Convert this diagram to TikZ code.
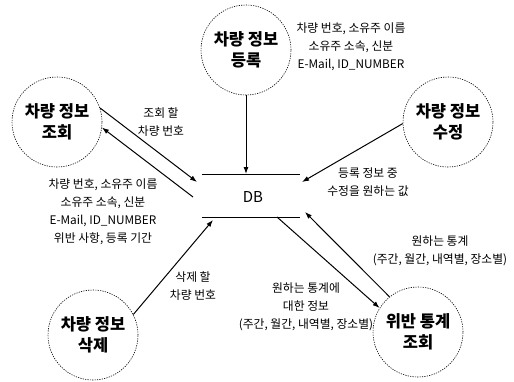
\documentclass[tikz,border=0pt]{standalone}
\usepackage{fontspec}
\setmainfont{Noto Sans CJK KR}
\usetikzlibrary{arrows.meta}
\begin{document}
\begin{tikzpicture}[x=1pt,y=-1pt,
  proc/.style={circle,draw,dash pattern=on 1.2pt off 1.2pt,line width=0.6pt,minimum size=90pt,inner sep=0pt,align=center,font=\fontsize{16.5}{21}\selectfont\bfseries},
  lbl/.style={align=center,inner sep=0pt,font=\fontsize{11.8}{18}\selectfont},
  dbline/.style={line width=0.6pt},
  flow/.style={-{Latex[length=7pt,width=5pt]},line width=1pt}]
\useasboundingbox[fill=white] (0,0) rectangle (514,381);
% processes
\node[proc] (reg)  at (246,50)  {차량 정보\\등록};
\node[proc] (inq)  at (57,122)  {차량 정보\\조회};
\node[proc] (mod)  at (448,122) {차량 정보\\수정};
\node[proc] (del)  at (93,335)  {차량 정보\\삭제};
\node[proc] (stat) at (418,332) {위반 통계\\조회};
% DB store
\coordinate (dbtl) at (202,174);
\coordinate (dbtr) at (300,174);
\coordinate (dbbl) at (202,217);
\coordinate (dbbr) at (300,217);
\draw[dbline] (dbtl) -- (dbtr);
\draw[dbline] (dbbl) -- (dbbr);
\node[font=\fontsize{15}{15}\selectfont] (db) at (253,197) {DB};
% arrow ends at DB
\coordinate (dbA) at (246,174);
\coordinate (dbB) at (197,182);
\coordinate (dbC) at (193,197);
\coordinate (dbD) at (302,182);
\coordinate (dbE) at (213,220);
\coordinate (dbF) at (277,217);
\coordinate (dbG) at (305,212);
% flows
\draw[flow] (reg.south) -- (dbA);
\draw[flow] (inq.18) -- (dbB);
\draw[flow] (dbC) -- (inq.-7);
\draw[flow] (mod.182) -- (dbD);
\draw[flow] (del.27) -- (dbE);
\draw[flow] (dbF) -- (stat.148);
\draw[flow] (stat.129) -- (dbG);
% labels
\node[lbl] (lreg) at (351,47) {차량 번호, 소유주 이름\\소유주 소속, 신분\\E-Mail, ID\_NUMBER};
\node[lbl] (linq) at (161,122) {조회 할\\차량 번호};
\node[lbl] (lret) at (103,212) {차량 번호, 소유주 이름\\소유주 소속, 신분\\E-Mail, ID\_NUMBER\\위반 사항, 등록 기간};
\node[lbl] (lmod) at (368,182) {등록 정보 중\\수정을 원하는 값};
\node[lbl] (ldel) at (193,286) {삭제 할\\차량 번호};
\node[lbl] (lst1) at (440,251) {원하는 통계\\(주간, 월간, 내역별, 장소별)};
\node[lbl] (lst2) at (306,307) {원하는 통계에\\대한 정보\\(주간, 월간, 내역별, 장소별)};
\end{tikzpicture}
\end{document}
